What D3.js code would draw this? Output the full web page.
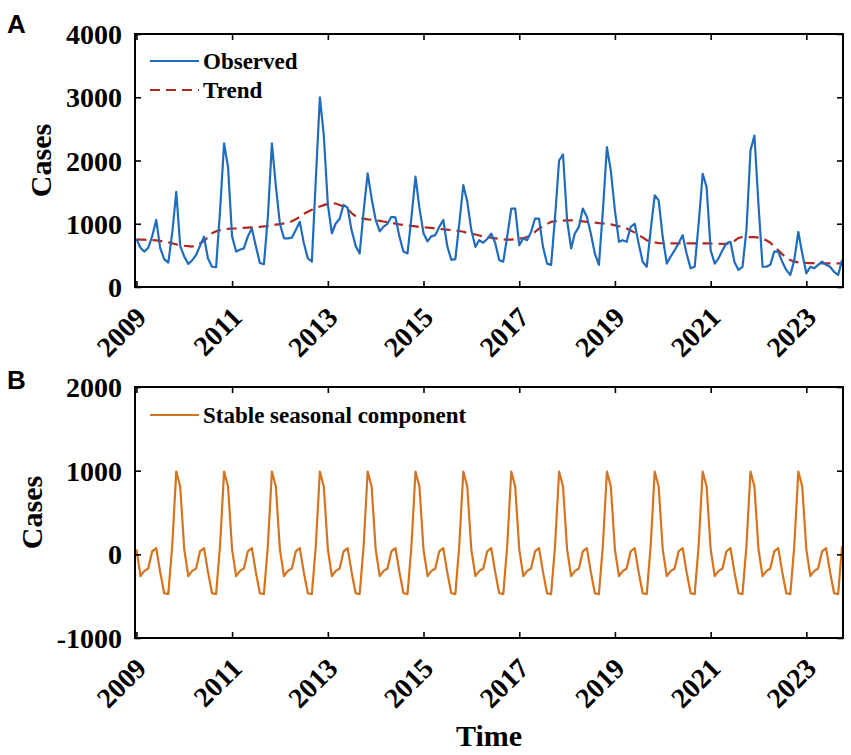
<!DOCTYPE html>
<html>
<head>
<meta charset="utf-8">
<script src="https://cdn.jsdelivr.net/npm/d3@7"></script>
<style>
    body { margin: 0; background: #fff; }
    svg { display: block; }
</style>
</head>
<body>
<div id="chart"></div>
<script>
// ------------------------------------------------- Data -------------------------------------------------
// monthly cases, Jan 2009 .. Oct 2023
const observed = [
    760, 620, 560, 620, 800, 1060, 620, 440, 385, 850, 1505, 650,       // 2009
    480, 365, 420, 505, 650, 795, 450, 320, 315, 1200, 2270, 1900,      // 2010
    800, 560, 590, 610, 800, 925, 650, 380, 360, 1100, 2270, 1600,      // 2011
    1000, 770, 770, 780, 900, 1030, 700, 455, 400, 1700, 3000, 2400,    // 2012
    1300, 850, 1000, 1080, 1300, 1250, 900, 650, 530, 1200, 1795, 1400, // 2013
    1060, 880, 950, 1000, 1110, 1100, 800, 560, 530, 1100, 1745, 1250,  // 2014
    850, 720, 800, 820, 950, 1060, 650, 430, 440, 1000, 1610, 1350,     // 2015
    900, 635, 740, 700, 760, 845, 700, 425, 400, 800, 1240, 1240,       // 2016
    660, 770, 740, 870, 1080, 1080, 635, 370, 350, 1100, 2000, 2095,    // 2017
    1055, 610, 845, 950, 1240, 1110, 845, 530, 350, 1200, 2210, 1840,   // 2018
    1210, 715, 740, 715, 950, 1000, 690, 400, 320, 900, 1450, 1370,     // 2019
    790, 370, 480, 580, 690, 820, 530, 295, 320, 1000, 1790, 1580,      // 2020
    580, 370, 450, 580, 690, 715, 400, 270, 320, 900, 2160, 2395,       // 2021
    1300, 320, 320, 350, 560, 560, 400, 270, 190, 425, 870, 530,        // 2022
    215, 320, 295, 350, 400, 350, 320, 240, 190, 425                    // 2023
];

const trend = [
    752, 750, 748, 745, 740, 736, 728, 718, 705, 692, 673, 662,
    652, 645, 640, 660, 690, 725, 790, 850, 880, 900, 912, 920,
    925, 928, 932, 936, 940, 944, 948, 952, 957, 965, 975, 985,
    995, 1005, 1015, 1040, 1070, 1110, 1157, 1190, 1220, 1250, 1273, 1295,
    1315, 1325, 1320, 1295, 1273, 1230, 1170, 1120, 1095, 1080, 1070, 1063,
    1055, 1045, 1035, 1026, 1015, 1003, 990, 980, 973, 965, 958, 950,
    947, 940, 934, 927, 920, 913, 907, 900, 894, 885, 873, 855,
    842, 830, 815, 800, 790, 780, 770, 760, 755, 750, 750, 755,
    765, 775, 790, 820, 870, 925, 960, 995, 1030, 1040, 1045, 1050,
    1053, 1055, 1052, 1045, 1038, 1030, 1025, 1018, 1010, 1005, 1000, 990,
    975, 960, 940, 925, 895, 860, 820, 785, 740, 720, 705, 695,
    692, 690, 690, 690, 690, 690, 690, 690, 690, 690, 690, 690,
    688, 686, 684, 682, 680, 690, 730, 775, 790, 790, 790, 790,
    780, 765, 740, 700, 640, 580, 520, 465, 425, 400, 390, 385,
    380, 378, 376, 375, 375, 375, 375, 375, 375, 375
];

// stable seasonal component, one value per calendar month (Jan..Dec)
const seasonalByMonth = [60, -260, -200, -170, 35, 75, -210, -465, -475, 100, 990, 810];

const startYear = 2009;
const xTickYears = [2009, 2011, 2013, 2015, 2017, 2019, 2021, 2023];
const yTicksA = [0, 1000, 2000, 3000, 4000];
const yTicksB = [-1000, 0, 1000, 2000];

// ------------------------------------------------- Layout -------------------------------------------------
const W = 851, H = 755;
const serif = "'Liberation Serif', 'Times New Roman', serif";
const left = 135, right = 843;

const svg = d3.select("#chart").append("svg")
    .attr("width", W)
    .attr("height", H);

const dates = observed.map((_, i) => new Date(startYear, i, 1));

const x = d3.scaleTime()
    .domain([new Date(2008, 11, 21), new Date(2023, 9, 8)])
    .range([left, right]);

// ------------------------------------------------- Panel helper -------------------------------------------------
function drawPanel(top, bottom, yDomain, yTicks, letter, letterY, labelX) {
    const y = d3.scaleLinear().domain(yDomain).range([bottom, top]);
    const g = svg.append("g");

    // clip so lines stay inside the box
    const clipId = "clip" + letter;
    svg.append("clipPath").attr("id", clipId)
        .append("rect")
        .attr("x", left).attr("y", top)
        .attr("width", right - left).attr("height", bottom - top);

    const plot = g.append("g").attr("clip-path", `url(#${clipId})`);

    // ticks pointing inwards on all four sides
    const tickLen = 6;
    const xTicks = xTickYears.map(yr => new Date(yr, 0, 1));
    const axisBottom = d3.axisBottom(x)
        .tickValues(xTicks).tickSize(-tickLen)
        .tickFormat(d3.timeFormat("%Y"));
    const axisTop = d3.axisTop(x)
        .tickValues(xTicks).tickSize(-tickLen).tickFormat("");
    const axisLeft = d3.axisLeft(y)
        .tickValues(yTicks).tickSize(-tickLen).tickPadding(13)
        .tickFormat(d => String(d)); // plain hyphen for negatives
    const axisRight = d3.axisRight(y)
        .tickValues(yTicks).tickSize(-tickLen).tickFormat("");

    const gb = g.append("g").attr("transform", `translate(0,${bottom})`).call(axisBottom);
    g.append("g").attr("transform", `translate(0,${top})`).call(axisTop);
    const gl = g.append("g").attr("transform", `translate(${left},0)`).call(axisLeft);
    g.append("g").attr("transform", `translate(${right},0)`).call(axisRight);

    g.selectAll(".domain").remove();
    g.selectAll(".tick line").attr("stroke", "#000").attr("stroke-width", 1.6);

    gb.selectAll(".tick text")
        .style("font-family", serif)
        .style("font-weight", "bold")
        .style("font-size", "28px")
        .attr("fill", "#000")
        .attr("text-anchor", "end")
        .attr("y", 0)
        .attr("dy", 0)
        .attr("transform", "translate(11,32) rotate(-45)");

    gl.selectAll(".tick text")
        .style("font-family", serif)
        .style("font-weight", "bold")
        .style("font-size", "28px")
        .attr("fill", "#000")
        .attr("dy", "0.34em");

    // box frame
    g.append("rect")
        .attr("x", left).attr("y", top)
        .attr("width", right - left).attr("height", bottom - top)
        .attr("fill", "none")
        .attr("stroke", "#000")
        .attr("stroke-width", 2);

    // y label
    svg.append("text")
        .attr("transform", `translate(${labelX},${(top + bottom) / 2}) rotate(-90)`)
        .attr("text-anchor", "middle")
        .style("font-family", serif)
        .style("font-weight", "bold")
        .style("font-size", "30px")
        .text("Cases");

    // panel letter
    svg.append("text")
        .attr("x", 7).attr("y", letterY)
        .style("font-family", "'Liberation Sans', Arial, sans-serif")
        .style("font-weight", "bold")
        .style("font-size", "26px")
        .text(letter);

    return { y, plot, g };
}

// ------------------------------------------------- Panel A -------------------------------------------------
const A = drawPanel(34, 287, [0, 4000], yTicksA, "A", 33, 51);

const lineA = d3.line()
    .x((d, i) => x(dates[i]))
    .y(d => A.y(d));

A.plot.append("path")
    .datum(trend)
    .attr("d", lineA)
    .attr("fill", "none")
    .attr("stroke", "#b3261e")
    .attr("stroke-width", 2.2)
    .attr("stroke-dasharray", "10,6");

A.plot.append("path")
    .datum(observed)
    .attr("d", lineA)
    .attr("fill", "none")
    .attr("stroke", "#1f6cbf")
    .attr("stroke-width", 2.2)
    .attr("stroke-linejoin", "round");

// legend A
const legA = [
    { label: "Observed", color: "#1f6cbf", dash: null, y: 61 },
    { label: "Trend", color: "#b3261e", dash: "10,6", y: 90 }
];
legA.forEach(l => {
    svg.append("line")
        .attr("x1", 150).attr("x2", 199)
        .attr("y1", l.y).attr("y2", l.y)
        .attr("stroke", l.color)
        .attr("stroke-width", 2.2)
        .attr("stroke-dasharray", l.dash);
    svg.append("text")
        .attr("x", 203).attr("y", l.y + 8)
        .style("font-family", serif)
        .style("font-weight", "bold")
        .style("font-size", "23px")
        .text(l.label);
});

// ------------------------------------------------- Panel B -------------------------------------------------
const B = drawPanel(387, 638, [-1000, 2000], yTicksB, "B", 389, 42);

const seasonal = dates.map(d => seasonalByMonth[d.getMonth()]);

B.plot.append("path")
    .datum(seasonal)
    .attr("d", d3.line().x((d, i) => x(dates[i])).y(d => B.y(d)))
    .attr("fill", "none")
    .attr("stroke", "#d5731f")
    .attr("stroke-width", 2.2)
    .attr("stroke-linejoin", "round");

svg.append("line")
    .attr("x1", 150).attr("x2", 199)
    .attr("y1", 415).attr("y2", 415)
    .attr("stroke", "#d5731f")
    .attr("stroke-width", 2.2);
svg.append("text")
    .attr("x", 203).attr("y", 423)
    .style("font-family", serif)
    .style("font-weight", "bold")
    .style("font-size", "23px")
    .text("Stable seasonal component");

// x label
svg.append("text")
    .attr("x", (left + right) / 2).attr("y", 746)
    .attr("text-anchor", "middle")
    .style("font-family", serif)
    .style("font-weight", "bold")
    .style("font-size", "30px")
    .text("Time");
</script>
</body>
</html>
